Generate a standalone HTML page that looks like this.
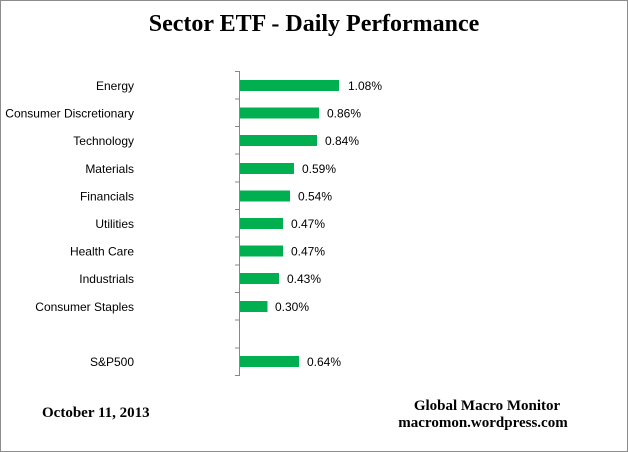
<!DOCTYPE html>
<html><head><style>
body{margin:0;background:#fff;}
svg{display:block;}
</style></head><body>
<svg width="628" height="452" xmlns="http://www.w3.org/2000/svg">
<rect x="0.5" y="0.5" width="627" height="451" fill="#fff" stroke="#8c8c8c"/>
<text x="314" y="31" text-anchor="middle" font-family="Liberation Serif, serif" font-weight="bold" font-size="24">Sector ETF - Daily Performance</text>
<g font-family="Liberation Sans, sans-serif" font-size="12" fill="#000">
<line x1="239.5" y1="71" x2="239.5" y2="376" stroke="#888"/>
<g stroke="#888">
<line x1="235" y1="71.5" x2="239" y2="71.5"/><line x1="235" y1="99" x2="239" y2="99"/><line x1="235" y1="126.5" x2="239" y2="126.5"/><line x1="235" y1="154" x2="239" y2="154"/><line x1="235" y1="182" x2="239" y2="182"/><line x1="235" y1="209.5" x2="239" y2="209.5"/><line x1="235" y1="237" x2="239" y2="237"/><line x1="235" y1="265" x2="239" y2="265"/><line x1="235" y1="292.5" x2="239" y2="292.5"/><line x1="235" y1="320" x2="239" y2="320"/><line x1="235" y1="348" x2="239" y2="348"/><line x1="235" y1="375.5" x2="239" y2="375.5"/>
</g>
<g fill="#00b050">
<rect x="240" y="80" width="99" height="11"/>
<rect x="240" y="107.5" width="79" height="11"/>
<rect x="240" y="135" width="77" height="11"/>
<rect x="240" y="163" width="54" height="11"/>
<rect x="240" y="190.5" width="50" height="11"/>
<rect x="240" y="218" width="43" height="11"/>
<rect x="240" y="245.5" width="43" height="11"/>
<rect x="240" y="273" width="39" height="11"/>
<rect x="240" y="301" width="27.5" height="11"/>
<rect x="240" y="356" width="59" height="11"/>
</g>
<text x="348" y="90">1.08%</text>
<text x="327" y="117.5">0.86%</text>
<text x="325" y="145">0.84%</text>
<text x="302" y="173">0.59%</text>
<text x="298" y="200.5">0.54%</text>
<text x="291" y="228">0.47%</text>
<text x="291" y="255.5">0.47%</text>
<text x="287" y="283">0.43%</text>
<text x="275" y="311">0.30%</text>
<text x="307" y="366">0.64%</text>
<g text-anchor="end">
<text x="134" y="90">Energy</text>
<text x="134" y="117.5">Consumer Discretionary</text>
<text x="134" y="145">Technology</text>
<text x="134" y="173">Materials</text>
<text x="134" y="200.5">Financials</text>
<text x="134" y="228">Utilities</text>
<text x="134" y="255.5">Health Care</text>
<text x="134" y="283">Industrials</text>
<text x="134" y="311">Consumer Staples</text>
<text x="134" y="366">S&amp;P500</text>
</g>
</g>
<g font-family="Liberation Serif, serif" font-weight="bold" font-size="15">
<text x="42" y="417">October 11, 2013</text>
<text x="487" y="410" text-anchor="middle">Global Macro Monitor</text>
<text x="483" y="427" text-anchor="middle">macromon.wordpress.com</text>
</g>
</svg>
</body></html>
